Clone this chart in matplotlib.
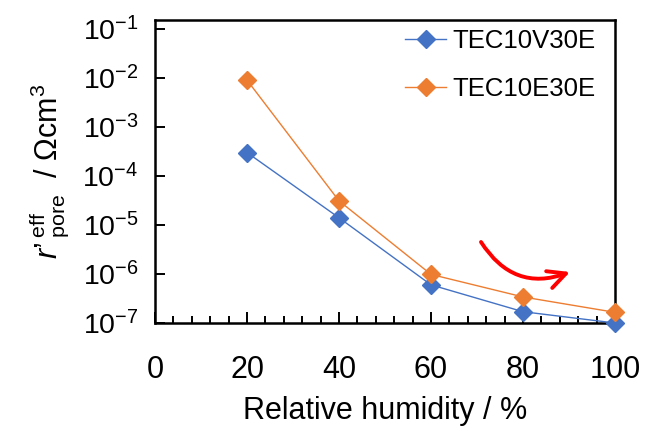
import matplotlib
matplotlib.use('Agg')
import matplotlib.pyplot as plt
import numpy as np
from matplotlib.ticker import FixedLocator, LogLocator, MultipleLocator, FuncFormatter, NullFormatter

plt.rcParams['font.family'] = ['Liberation Sans', 'DejaVu Sans']
plt.rcParams['mathtext.fontset'] = 'custom'
plt.rcParams['mathtext.rm'] = 'Liberation Sans'
plt.rcParams['mathtext.it'] = 'Liberation Sans:italic'
plt.rcParams['axes.unicode_minus'] = False

# relative humidity (%) and effective pore resistance (Ohm cm^3)
humidity = [20, 40, 60, 80, 100]
r_v30e = [3.0e-4, 1.4e-5, 6.0e-7, 1.7e-7, 1.0e-7]
r_e30e = [9.0e-3, 3.1e-5, 9.8e-7, 3.4e-7, 1.65e-7]
labels = ['TEC10V30E', 'TEC10E30E']
y_exponents = [-1, -2, -3, -4, -5, -6, -7]

blue = '#4472C4'
orange = '#ED7D31'

fig = plt.figure(figsize=(6.46, 4.30), dpi=100)
ax = fig.add_axes([155/646, 107/430, 460/646, 303/430])

ax.plot(humidity, r_v30e, color=blue, lw=1.0, marker='D', ms=9,
        mec=blue, mfc=blue, label=labels[0], clip_on=False, zorder=3)
ax.plot(humidity, r_e30e, color=orange, lw=1.0, marker='D', ms=9,
        mec=orange, mfc=orange, label=labels[1], clip_on=False, zorder=3)

ax.set_yscale('log')
ax.set_xlim(0, 100)
ax.set_ylim(1e-7, 10**-0.82)

ax.xaxis.set_major_locator(MultipleLocator(20))
ax.xaxis.set_minor_locator(MultipleLocator(4))
ax.yaxis.set_major_locator(FixedLocator([10.0**e for e in y_exponents]))
ax.yaxis.set_minor_locator(LogLocator(base=10, subs=np.arange(2, 10)))
ax.yaxis.set_minor_formatter(NullFormatter())
ax.yaxis.set_major_formatter(FuncFormatter(lambda v, p: '10$^{%d}$' % round(np.log10(v))))

ax.tick_params(axis='x', which='major', direction='in', length=8, width=1.4,
               labelsize=22, pad=23)
ax.tick_params(axis='x', which='minor', direction='in', length=5, width=1.4)
ax.tick_params(axis='y', which='major', direction='in', length=7, width=1.4,
               labelsize=20.5, pad=12)
ax.tick_params(axis='y', which='minor', direction='in', length=4.5, width=1.4)

for s in ax.spines.values():
    s.set_linewidth(1.8)

ax.set_xlabel('Relative humidity / %', fontsize=22, labelpad=8)
ax.set_ylabel("$\\mathit{r}$\u2019$\\,{}^{\\mathrm{eff}}_{\\mathrm{pore}}$  / \u03A9cm$^{3}$",
              fontsize=22, labelpad=8)

ax.legend(loc='upper left', bbox_to_anchor=(405/646, 1 - 29/430),
          bbox_transform=fig.transFigure, frameon=False, fontsize=18.5,
          handlelength=1.6, handletextpad=0.25, labelspacing=0.95,
          borderpad=0, borderaxespad=0)

# red curved arrow marking the trend
ax.annotate('', xy=(570, 430 - 272), xytext=(481, 430 - 242),
            xycoords='figure pixels', textcoords='figure pixels',
            arrowprops=dict(arrowstyle='->', color='red', lw=2.8,
                            connectionstyle='arc3,rad=0.4',
                            mutation_scale=32, shrinkA=0, shrinkB=0))

fig.savefig('out.png', dpi=100)
